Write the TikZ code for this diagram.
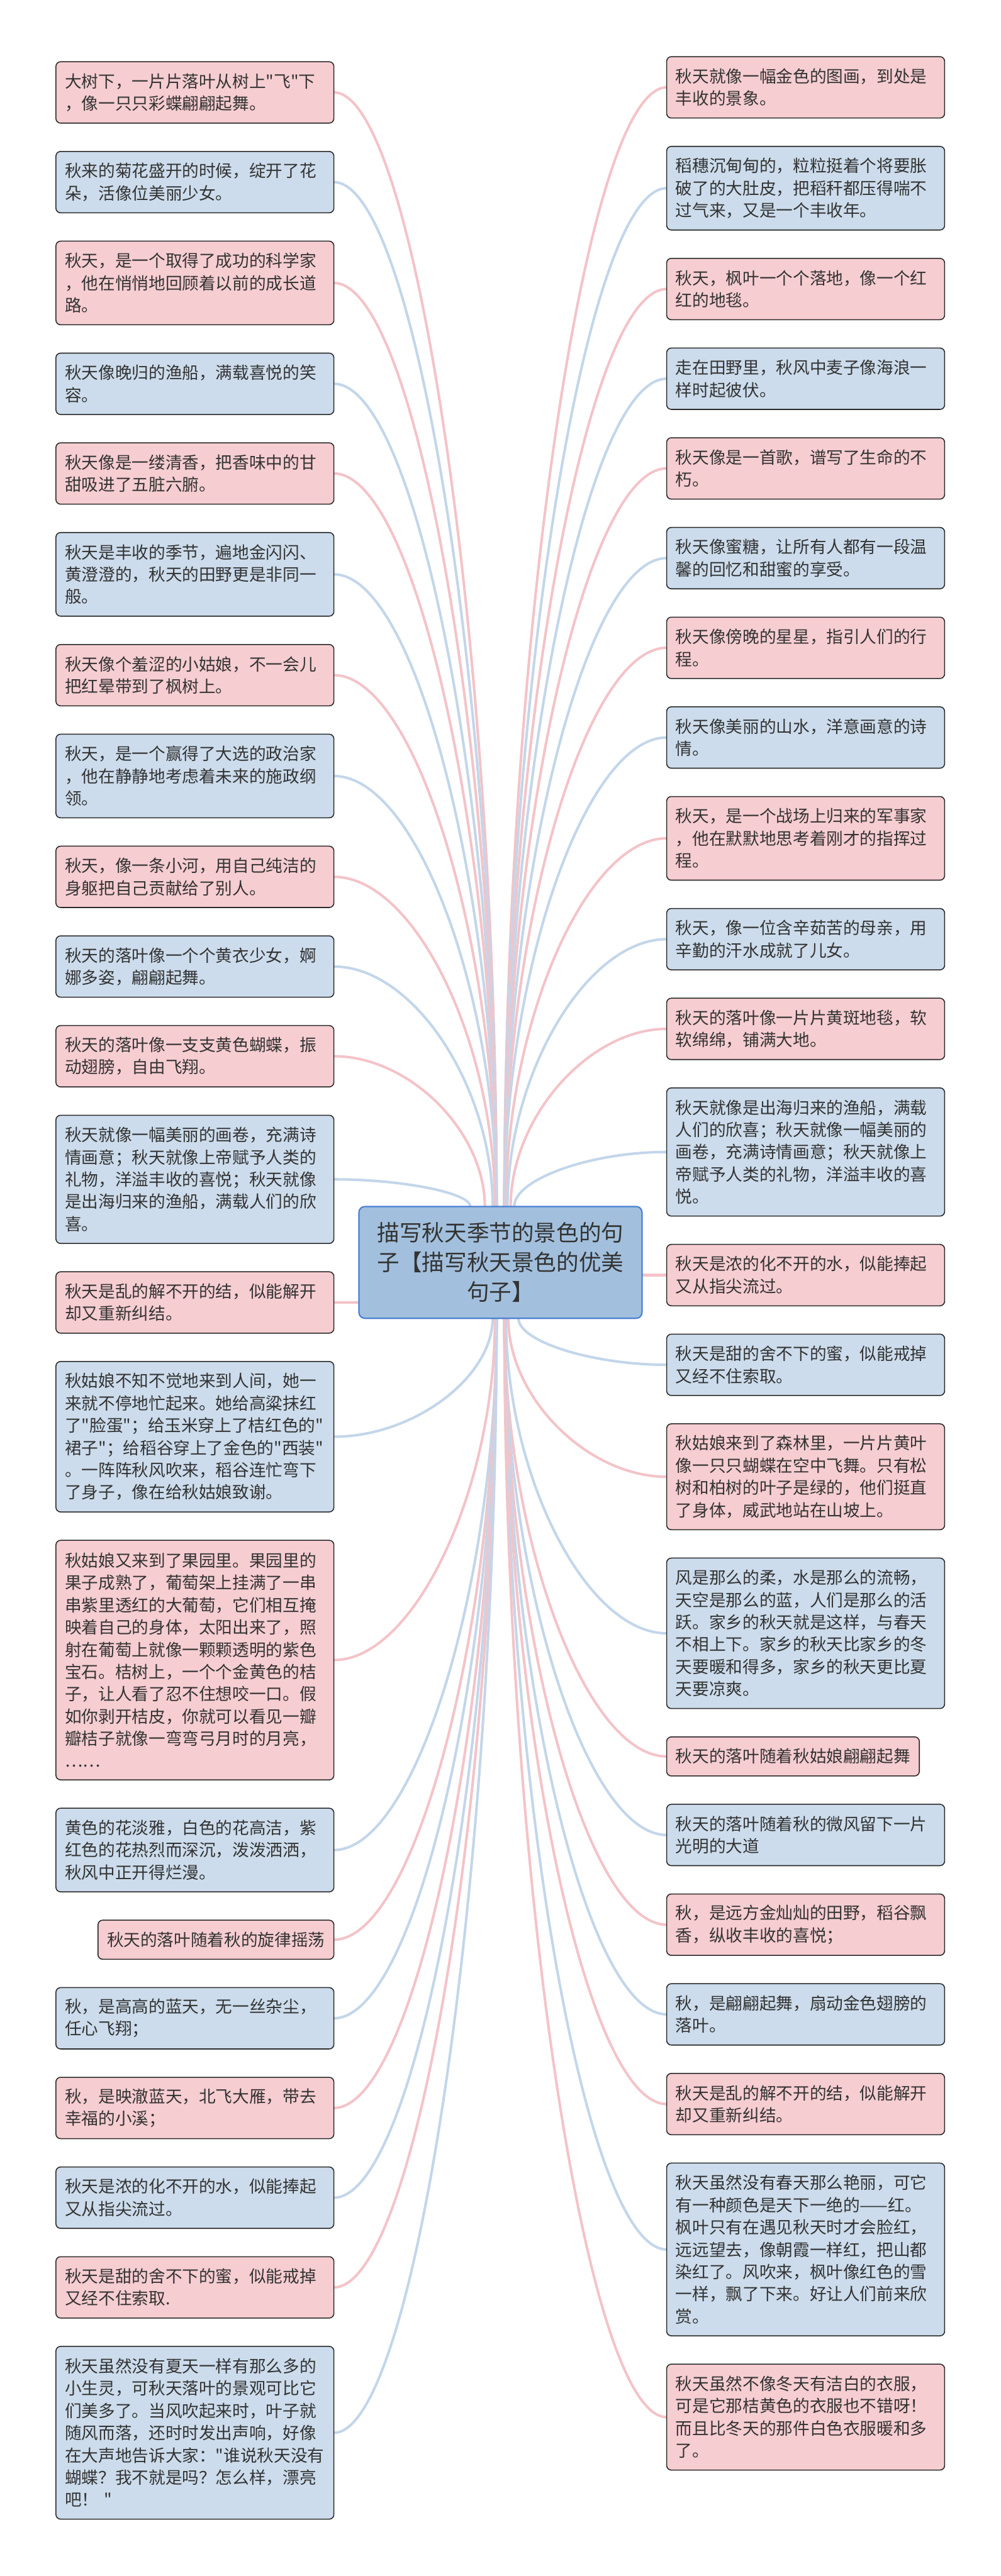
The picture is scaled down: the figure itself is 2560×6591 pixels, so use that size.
\documentclass[tikz,border=0pt]{standalone}
\usepackage{fontspec}
\setmainfont[Ligatures=TeXOff]{Noto Sans CJK SC}
\usetikzlibrary{positioning, calc, backgrounds}
\definecolor{cpink}{HTML}{F6CDD1}
\definecolor{cblue}{HTML}{CCDCEC}
\definecolor{cpinkline}{HTML}{F3C3C8}
\definecolor{cblueline}{HTML}{C3D6EA}
\definecolor{croot}{HTML}{A2C0DD}
\definecolor{crootedge}{HTML}{4A80D4}
\definecolor{ctext}{HTML}{333333}
\definecolor{cedge}{HTML}{2A2A2A}
\newcommand\leaffont{\fontsize{12.2}{16.2}\selectfont\lineskiplimit=-20pt\relax}
\newcommand\rootfont{\fontsize{16.3}{21.6}\selectfont\lineskiplimit=-20pt\relax}
\tikzset{
  leaf/.style={draw=cedge, line width=0.25mm, rounded corners=1.2mm, text=ctext, align=left, outer sep=0pt,
    inner xsep=2.3mm, inner ysep=0mm, font=\leaffont},
  block/.style={leaf, text width=66.5mm},
  nrows/.style={minimum height={4.3mm+5.7mm*#1}},
  pinkleaf/.style={block, fill=cpink},
  blueleaf/.style={block, fill=cblue},
  root/.style={draw=crootedge, fill=croot, line width=0.35mm, rounded corners=1.5mm, text=ctext, outer sep=0pt,
    align=center, minimum width=72.4mm, minimum height=28.6mm, font=\rootfont},
  wire/.style={draw=c#1line, line width=0.65mm},
  branch/.style={to path={.. controls ($(\tikztostart)!0.5!(\tikztostart |- \tikztotarget)$)
    and ($(\tikztotarget)!0.5!(\tikztostart |- \tikztotarget)$) .. (\tikztotarget)}},
}

\begin{document}
\begin{tikzpicture}[x=0.1mm, y=-0.1mm]
  \useasboundingbox (0,0) rectangle (2560,6591);
  \node[root] (root) at (1280,3230) {描写秋天季节的景色的句\\子【描写秋天景色的优美\\句子】};

  % left column
  \node[pinkleaf, nrows=2, anchor=north west] (l1) at (143,158) {大树下，一片片落叶从树上"飞"下\\，像一只只彩蝶翩翩起舞。};
  \node[blueleaf, nrows=2, below=7.25mm of l1.south east, anchor=north east] (l2) {秋来的菊花盛开的时候，绽开了花\\朵，活像位美丽少女。};
  \node[pinkleaf, nrows=3, below=7.25mm of l2.south east, anchor=north east] (l3) {秋天，是一个取得了成功的科学家\\，他在悄悄地回顾着以前的成长道\\路。};
  \node[blueleaf, nrows=2, below=7.25mm of l3.south east, anchor=north east] (l4) {秋天像晚归的渔船，满载喜悦的笑\\容。};
  \node[pinkleaf, nrows=2, below=7.25mm of l4.south east, anchor=north east] (l5) {秋天像是一缕清香，把香味中的甘\\甜吸进了五脏六腑。};
  \node[blueleaf, nrows=3, below=7.25mm of l5.south east, anchor=north east] (l6) {秋天是丰收的季节，遍地金闪闪、\\黄澄澄的，秋天的田野更是非同一\\般。};
  \node[pinkleaf, nrows=2, below=7.25mm of l6.south east, anchor=north east] (l7) {秋天像个羞涩的小姑娘，不一会儿\\把红晕带到了枫树上。};
  \node[blueleaf, nrows=3, below=7.25mm of l7.south east, anchor=north east] (l8) {秋天，是一个赢得了大选的政治家\\，他在静静地考虑着未来的施政纲\\领。};
  \node[pinkleaf, nrows=2, below=7.25mm of l8.south east, anchor=north east] (l9) {秋天，像一条小河，用自己纯洁的\\身躯把自己贡献给了别人。};
  \node[blueleaf, nrows=2, below=7.25mm of l9.south east, anchor=north east] (l10) {秋天的落叶像一个个黄衣少女，婀\\娜多姿，翩翩起舞。};
  \node[pinkleaf, nrows=2, below=7.25mm of l10.south east, anchor=north east] (l11) {秋天的落叶像一支支黄色蝴蝶，振\\动翅膀，自由飞翔。};
  \node[blueleaf, nrows=5, below=7.25mm of l11.south east, anchor=north east] (l12) {秋天就像一幅美丽的画卷，充满诗\\情画意；秋天就像上帝赋予人类的\\礼物，洋溢丰收的喜悦；秋天就像\\是出海归来的渔船，满载人们的欣\\喜。};
  \node[pinkleaf, nrows=2, below=7.25mm of l12.south east, anchor=north east] (l13) {秋天是乱的解不开的结，似能解开\\却又重新纠结。};
  \node[blueleaf, nrows=6, below=7.25mm of l13.south east, anchor=north east] (l14) {秋姑娘不知不觉地来到人间，她一\\来就不停地忙起来。她给高粱抹红\\了"脸蛋"；给玉米穿上了桔红色的"\\裙子"；给稻谷穿上了金色的"西装"\\。一阵阵秋风吹来，稻谷连忙弯下\\了身子，像在给秋姑娘致谢。};
  \node[pinkleaf, nrows=10, below=7.25mm of l14.south east, anchor=north east] (l15) {秋姑娘又来到了果园里。果园里的\\果子成熟了，葡萄架上挂满了一串\\串紫里透红的大葡萄，它们相互掩\\映着自己的身体，太阳出来了，照\\射在葡萄上就像一颗颗透明的紫色\\宝石。桔树上，一个个金黄色的桔\\子，让人看了忍不住想咬一口。假\\如你剥开桔皮，你就可以看见一瓣\\瓣桔子就像一弯弯弓月时的月亮，\\……};
  \node[blueleaf, nrows=3, below=7.25mm of l15.south east, anchor=north east] (l16) {黄色的花淡雅，白色的花高洁，紫\\红色的花热烈而深沉，泼泼洒洒，\\秋风中正开得烂漫。};
  \node[leaf, fill=cpink, nrows=1, below=7.25mm of l16.south east, anchor=north east] (l17) {秋天的落叶随着秋的旋律摇荡};
  \node[blueleaf, nrows=2, below=7.25mm of l17.south east, anchor=north east] (l18) {秋，是高高的蓝天，无一丝杂尘，\\任心飞翔；};
  \node[pinkleaf, nrows=2, below=7.25mm of l18.south east, anchor=north east] (l19) {秋，是映澈蓝天，北飞大雁，带去\\幸福的小溪；};
  \node[blueleaf, nrows=2, below=7.25mm of l19.south east, anchor=north east] (l20) {秋天是浓的化不开的水，似能捧起\\又从指尖流过。};
  \node[pinkleaf, nrows=2, below=7.25mm of l20.south east, anchor=north east] (l21) {秋天是甜的舍不下的蜜，似能戒掉\\又经不住索取.};
  \node[blueleaf, nrows=7, below=7.25mm of l21.south east, anchor=north east] (l22) {秋天虽然没有夏天一样有那么多的\\小生灵，可秋天落叶的景观可比它\\们美多了。当风吹起来时，叶子就\\随风而落，还时时发出声响，好像\\在大声地告诉大家："谁说秋天没有\\蝴蝶？我不就是吗？怎么样，漂亮\\吧！ "};

  % right column
  \node[pinkleaf, nrows=2, anchor=north west] (r1) at (1705,145) {秋天就像一幅金色的图画，到处是\\丰收的景象。};
  \node[blueleaf, nrows=3, below=7.25mm of r1.south west, anchor=north west] (r2) {稻穗沉甸甸的，粒粒挺着个将要胀\\破了的大肚皮，把稻秆都压得喘不\\过气来，又是一个丰收年。};
  \node[pinkleaf, nrows=2, below=7.25mm of r2.south west, anchor=north west] (r3) {秋天，枫叶一个个落地，像一个红\\红的地毯。};
  \node[blueleaf, nrows=2, below=7.25mm of r3.south west, anchor=north west] (r4) {走在田野里，秋风中麦子像海浪一\\样时起彼伏。};
  \node[pinkleaf, nrows=2, below=7.25mm of r4.south west, anchor=north west] (r5) {秋天像是一首歌，谱写了生命的不\\朽。};
  \node[blueleaf, nrows=2, below=7.25mm of r5.south west, anchor=north west] (r6) {秋天像蜜糖，让所有人都有一段温\\馨的回忆和甜蜜的享受。};
  \node[pinkleaf, nrows=2, below=7.25mm of r6.south west, anchor=north west] (r7) {秋天像傍晚的星星，指引人们的行\\程。};
  \node[blueleaf, nrows=2, below=7.25mm of r7.south west, anchor=north west] (r8) {秋天像美丽的山水，洋意画意的诗\\情。};
  \node[pinkleaf, nrows=3, below=7.25mm of r8.south west, anchor=north west] (r9) {秋天，是一个战场上归来的军事家\\，他在默默地思考着刚才的指挥过\\程。};
  \node[blueleaf, nrows=2, below=7.25mm of r9.south west, anchor=north west] (r10) {秋天，像一位含辛茹苦的母亲，用\\辛勤的汗水成就了儿女。};
  \node[pinkleaf, nrows=2, below=7.25mm of r10.south west, anchor=north west] (r11) {秋天的落叶像一片片黄斑地毯，软\\软绵绵，铺满大地。};
  \node[blueleaf, nrows=5, below=7.25mm of r11.south west, anchor=north west] (r12) {秋天就像是出海归来的渔船，满载\\人们的欣喜；秋天就像一幅美丽的\\画卷，充满诗情画意；秋天就像上\\帝赋予人类的礼物，洋溢丰收的喜\\悦。};
  \node[pinkleaf, nrows=2, below=7.25mm of r12.south west, anchor=north west] (r13) {秋天是浓的化不开的水，似能捧起\\又从指尖流过。};
  \node[blueleaf, nrows=2, below=7.25mm of r13.south west, anchor=north west] (r14) {秋天是甜的舍不下的蜜，似能戒掉\\又经不住索取。};
  \node[pinkleaf, nrows=4, below=7.25mm of r14.south west, anchor=north west] (r15) {秋姑娘来到了森林里，一片片黄叶\\像一只只蝴蝶在空中飞舞。只有松\\树和柏树的叶子是绿的，他们挺直\\了身体，威武地站在山坡上。};
  \node[blueleaf, nrows=6, below=7.25mm of r15.south west, anchor=north west] (r16) {风是那么的柔，水是那么的流畅，\\天空是那么的蓝，人们是那么的活\\跃。家乡的秋天就是这样，与春天\\不相上下。家乡的秋天比家乡的冬\\天要暖和得多，家乡的秋天更比夏\\天要凉爽。};
  \node[leaf, fill=cpink, nrows=1, below=7.25mm of r16.south west, anchor=north west] (r17) {秋天的落叶随着秋姑娘翩翩起舞};
  \node[blueleaf, nrows=2, below=7.25mm of r17.south west, anchor=north west] (r18) {秋天的落叶随着秋的微风留下一片\\光明的大道};
  \node[pinkleaf, nrows=2, below=7.25mm of r18.south west, anchor=north west] (r19) {秋，是远方金灿灿的田野，稻谷飘\\香，纵收丰收的喜悦；};
  \node[blueleaf, nrows=2, below=7.25mm of r19.south west, anchor=north west] (r20) {秋，是翩翩起舞，扇动金色翅膀的\\落叶。};
  \node[pinkleaf, nrows=2, below=7.25mm of r20.south west, anchor=north west] (r21) {秋天是乱的解不开的结，似能解开\\却又重新纠结。};
  \node[blueleaf, nrows=7, below=7.25mm of r21.south west, anchor=north west] (r22) {秋天虽然没有春天那么艳丽，可它\\有一种颜色是天下一绝的——红。\\枫叶只有在遇见秋天时才会脸红，\\远远望去，像朝霞一样红，把山都\\染红了。风吹来，枫叶像红色的雪\\一样，飘了下来。好让人们前来欣\\赏。};
  \node[pinkleaf, nrows=4, below=7.25mm of r22.south west, anchor=north west] (r23) {秋天虽然不像冬天有洁白的衣服，\\可是它那桔黄色的衣服也不错呀！\\而且比冬天的那件白色衣服暖和多\\了。};

  % connectors
  \begin{scope}[on background layer]
    \fill[white] (0,0) rectangle (2560,6591);
    \foreach \n/\c/\dx in {l1/pink/-1, l2/blue/-1, l3/pink/-1, l4/blue/-1, l5/pink/-1, l6/blue/-1,
        l7/pink/-1, l8/blue/-1, l9/pink/-1.4, l10/blue/-2, l11/pink/-4, l12/blue/-7.7}
      \draw[wire=\c] ([xshift=\dx mm]root.north) to[branch] (\n.east);
    \foreach \n/\c/\dx in {r1/pink/1, r2/blue/1, r3/pink/1, r4/blue/1, r5/pink/1, r6/blue/1,
        r7/pink/1, r8/blue/1, r9/pink/1.4, r10/blue/1.8, r11/pink/2.6, r12/blue/3.5}
      \draw[wire=\c] ([xshift=\dx mm]root.north) to[branch] (\n.west);
    \foreach \n/\c/\dx in {l14/blue/-2, l15/pink/-1.4, l16/blue/-1, l17/pink/-1, l18/blue/-1,
        l19/pink/-1, l20/blue/-1, l21/pink/-1, l22/blue/-1}
      \draw[wire=\c] ([xshift=\dx mm]root.south) to[branch] (\n.east);
    \foreach \n/\c/\dx in {r14/blue/4.6, r15/pink/2, r16/blue/1.4, r17/pink/1, r18/blue/1,
        r19/pink/1, r20/blue/1, r21/pink/1, r22/blue/1, r23/pink/1}
      \draw[wire=\c] ([xshift=\dx mm]root.south) to[branch] (\n.west);
    \draw[wire=pink] (root.west |- l13.east) -- (l13.east);
    \draw[wire=pink] (root.east |- r13.west) -- (r13.west);
  \end{scope}
\end{tikzpicture}
\end{document}
